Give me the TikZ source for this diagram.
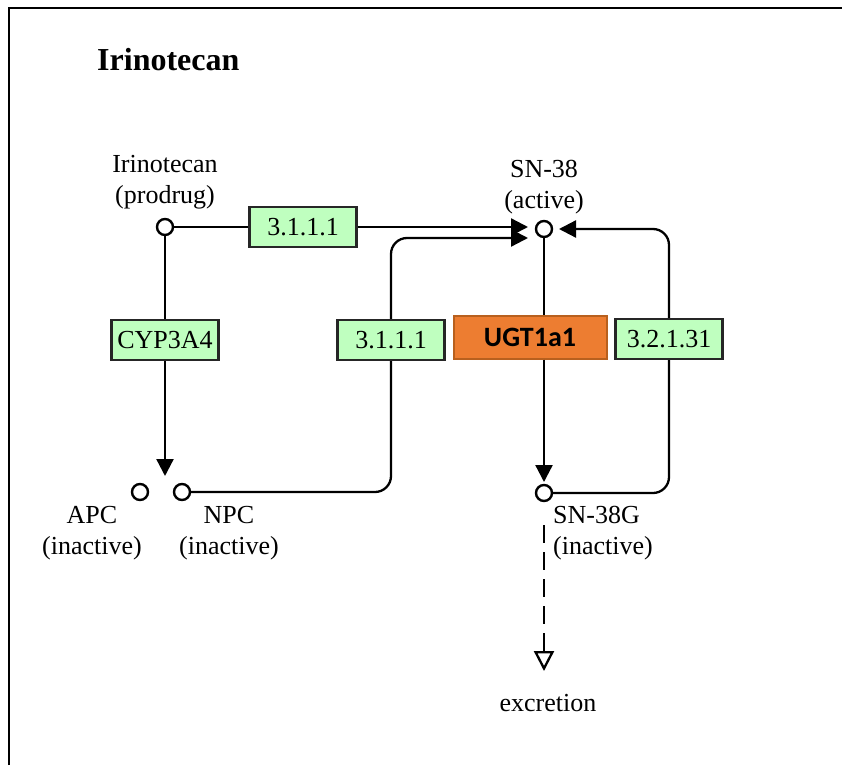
\documentclass[tikz,border=0pt]{standalone}
\usepackage{fontspec}
\setmainfont{Liberation Serif}
\newfontfamily\calib{Carlito}
\usetikzlibrary{arrows.meta}
\definecolor{keggreen}{HTML}{BFFFBF}
\definecolor{ugtorange}{HTML}{ED7D31}
\definecolor{ugtborder}{HTML}{B8601E}
\tikzset{
  cpd/.style={circle,draw=black,fill=white,line width=2.4pt,minimum size=16pt,inner sep=0pt},
  enz/.style={draw=black!85,fill=keggreen,line width=2.2pt,minimum width=107pt,minimum height=40pt,inner sep=0pt,
    font=\fontsize{26}{31}\selectfont},
  lbl/.style={align=center,font=\fontsize{26}{31}\selectfont,inner sep=0pt},
  conn/.style={line width=2.3pt,rounded corners=16pt},
  arr/.style={conn,-{Triangle[length=17pt,width=17pt]}},
}
\begin{document}
\begin{tikzpicture}[x=1pt,y=-1pt]
\useasboundingbox (0,0) rectangle (842,765);
% frame
\draw[line width=2.5pt] (9,765) -- (9,8) -- (842,8);
% title
\node[anchor=west,inner sep=0pt,font=\fontsize{32}{36}\selectfont\bfseries] (title) at (97,60) {Irinotecan};
% compounds
\node[cpd] (irin) at (165,227) {};
\node[cpd] (sn38) at (544,229) {};
\node[cpd] (apc) at (140,492) {};
\node[cpd] (npc) at (182,492) {};
\node[cpd] (sn38g) at (544,493) {};
% labels
\node[lbl] (irinl) at (165,182) {Irinotecan\\(prodrug)};
\node[lbl] (sn38l) at (544,187) {SN-38\\(active)};
\node[lbl] (apcl) at (92,533) {APC\\(inactive)};
\node[lbl] (npcl) at (229,533) {NPC\\(inactive)};
\node[lbl,align=left,anchor=west] (sn38gl) at (553,533) {SN-38G\\(inactive)};
\node[lbl] (excr) at (548,703) {excretion};
% enzymes
\node[enz] (e1) at (303,227) {3.1.1.1};
\node[enz] (cyp) at (165,340) {CYP3A4};
\node[enz] (e2) at (391,340) {3.1.1.1};
\node[enz] (e3) at (669,339) {3.2.1.31};
\node[draw=ugtborder,fill=ugtorange,line width=2pt,minimum width=153pt,minimum height=43pt,inner sep=0pt,
  font=\calib\bfseries\fontsize{28}{32}\selectfont] (ugt) at (530,337) {UGT1a1};
% arrow end points
\coordinate (sn38a) at (528,227);
\coordinate (sn38b) at (528,238);
\coordinate (sn38c) at (559,229);
\coordinate (cyptip) at (165,476);
\coordinate (ugttip) at (544,482);
\coordinate (exctip) at (544,671);
% connectors
\draw[conn] (irin.east) -- (e1.west);
\draw[arr] (e1.east) -- (sn38a);
\draw[conn] (irin.south) -- (cyp.north);
\draw[arr] (cyp.south) -- (cyptip);
\draw[conn] (npc.east) -| (e2.south);
\draw[arr] (e2.north) |- (sn38b);
\draw[conn] (sn38.south) -- (sn38.south |- ugt.north);
\draw[arr] (sn38.south |- ugt.south) -- (ugttip);
\draw[conn] (sn38g.east) -| (e3.south);
\draw[arr] (e3.north) |- (sn38c);
\draw[line width=2.3pt,dash pattern=on 18pt off 9pt,shorten <=23pt,
  -{Triangle[open,length=20pt,width=20pt,fill=white]}] (sn38g.south) -- (exctip);
\end{tikzpicture}
\end{document}
